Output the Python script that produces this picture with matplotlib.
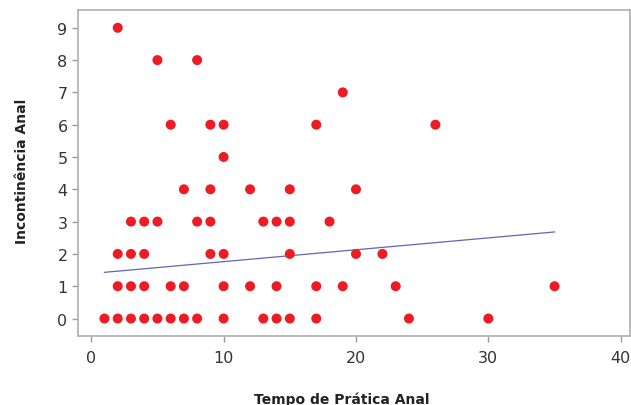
import numpy as np
import matplotlib
matplotlib.use("Agg")
import matplotlib.pyplot as plt

# Data (x = Tempo de Prática Anal, grouped by y = Incontinência Anal)
y9_x = [2]
y8_x = [5, 8]
y7_x = [19]
y6_x = [6, 9, 10, 17, 26]
y5_x = [10]
y4_x = [7, 9, 12, 15, 20]
y3_x = [3, 4, 5, 8, 9, 13, 14, 15, 18]
y2_x = [2, 3, 4, 9, 10, 15, 20, 22]
y1_x = [2, 3, 4, 6, 7, 10, 12, 14, 17, 19, 23, 35]
y0_x = [1, 2, 3, 4, 5, 6, 7, 8, 10, 13, 14, 15, 17, 24, 30]

fit_x = [1, 35]
fit_y = [1.43, 2.68]

x_ticks = [0, 10, 20, 30, 40]
y_ticks = [0, 1, 2, 3, 4, 5, 6, 7, 8, 9]

rows = {9: y9_x, 8: y8_x, 7: y7_x, 6: y6_x, 5: y5_x, 4: y4_x,
        3: y3_x, 2: y2_x, 1: y1_x, 0: y0_x}
xs = np.array([x for yv, lst in rows.items() for x in lst], dtype=float)
ys = np.array([yv for yv, lst in rows.items() for x in lst], dtype=float)

fig = plt.figure(figsize=(6.31, 4.06), dpi=100)
ax = fig.add_axes([78/631, 1-337.3/406, 552/631, 326.3/406])

ax.scatter(xs, ys, s=52, color='#ED1C24', edgecolors='none', zorder=3)
ax.plot(fit_x, fit_y, color='#6464B4', lw=0.9, zorder=2)

ax.set_xlim(-1, 40.7)
ax.set_ylim(-0.55, 9.55)
ax.set_xticks(x_ticks)
ax.set_yticks(y_ticks)

for s in ax.spines.values():
    s.set_color('#B4B4B4')
    s.set_linewidth(1.3)
ax.tick_params(colors='#999999', labelcolor='#333333', labelsize=11.5, length=4, width=1)
ax.tick_params(axis='x', pad=6)
ax.tick_params(axis='y', pad=3.5)

ax.set_xlabel('Tempo de Prática Anal', fontsize=10, fontweight='bold', color='#222222')
ax.set_ylabel('Incontinência Anal', fontsize=10, fontweight='bold', color='#222222')
ax.xaxis.set_label_coords(0.478, -0.168)
ax.yaxis.set_label_coords(-0.088, 0.51)

fig.savefig('out.png', dpi=100)
